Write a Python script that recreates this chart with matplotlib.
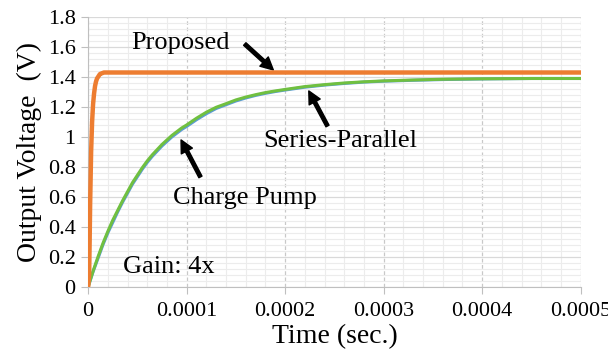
import matplotlib.pyplot as plt
from matplotlib.ticker import MultipleLocator

plt.rcParams['font.family'] = ['Liberation Serif', 'DejaVu Serif']

# Proposed (orange)
t_prop = [0, 0.000001, 0.0000015, 0.000002, 0.000003, 0.000004, 0.000005, 0.000006,
          0.000007, 0.000008, 0.000009, 0.00001, 0.000011, 0.000012, 0.000014,
          0.000016, 0.00002, 0.00005, 0.0001, 0.0002, 0.0003, 0.0004, 0.0005]
v_prop = [0.0, 0.08, 0.3, 0.55, 0.9, 1.1, 1.22, 1.29, 1.34, 1.37, 1.39, 1.40, 1.41,
          1.42, 1.425, 1.43, 1.43, 1.43, 1.43, 1.43, 1.43, 1.43, 1.43]

# Charge Pump (blue)
t_cp = [0, 0.000005, 0.00001, 0.000015, 0.00002, 0.000025, 0.00003, 0.000035,
        0.00004, 0.000045, 0.00005, 0.000055, 0.00006, 0.000065, 0.00007, 0.000075,
        0.00008, 0.000085, 0.00009, 0.000095, 0.0001, 0.00011, 0.00012, 0.00013,
        0.00014, 0.00015, 0.00016, 0.00017, 0.00018, 0.00019, 0.0002, 0.00022,
        0.00024, 0.00026, 0.00028, 0.0003, 0.00033, 0.00036, 0.0004, 0.00045, 0.0005]
v_cp = [0.0, 0.10, 0.19, 0.28, 0.36, 0.43, 0.50, 0.565, 0.625, 0.685, 0.735, 0.785,
        0.83, 0.87, 0.905, 0.94, 0.97, 1.0, 1.025, 1.05, 1.07, 1.115, 1.155, 1.19,
        1.215, 1.24, 1.26, 1.277, 1.291, 1.303, 1.313, 1.332, 1.346, 1.357, 1.366,
        1.372, 1.378, 1.383, 1.387, 1.39, 1.39]

# Series-Parallel (green)
t_sp = t_cp
v_sp = [0.0, 0.105, 0.20, 0.29, 0.37, 0.445, 0.51, 0.575, 0.635, 0.695, 0.745, 0.795,
        0.84, 0.88, 0.915, 0.95, 0.98, 1.01, 1.035, 1.06, 1.08, 1.125, 1.165, 1.198,
        1.222, 1.247, 1.266, 1.282, 1.296, 1.307, 1.317, 1.336, 1.349, 1.36, 1.368,
        1.374, 1.38, 1.385, 1.388, 1.39, 1.39]

fig, ax = plt.subplots(figsize=(6.08, 3.63), dpi=100)
fig.subplots_adjust(left=0.145, right=0.955, top=0.953, bottom=0.21)

ax.plot(t_cp, v_cp, color='#5b9bd5', lw=2.2, zorder=3)
ax.plot(t_sp, v_sp, color='#70c040', lw=2.2, zorder=4)
ax.plot(t_prop, v_prop, color='#ed7d31', lw=3.2, zorder=5)

ax.set_xlim(0, 0.0005)
ax.set_ylim(0, 1.8)
ax.xaxis.set_minor_locator(MultipleLocator(0.00002))
ax.yaxis.set_minor_locator(MultipleLocator(0.04))
ax.set_xticks([0, 0.0001, 0.0002, 0.0003, 0.0004, 0.0005])
ax.set_xticklabels(['0', '0.0001', '0.0002', '0.0003', '0.0004', '0.0005'])
ax.set_yticks([0, 0.2, 0.4, 0.6, 0.8, 1, 1.2, 1.4, 1.6, 1.8])
ax.set_yticklabels(['0', '0.2', '0.4', '0.6', '0.8', '1', '1.2', '1.4', '1.6', '1.8'])

ax.grid(which='minor', color='#ececec', lw=0.8)
ax.grid(which='major', axis='y', color='#d9d9d9', lw=0.9)
ax.grid(which='major', axis='x', color='#c8c8c8', lw=0.9, linestyle=(0, (3, 2)))
ax.set_axisbelow(True)

for s in ['top', 'right']:
    ax.spines[s].set_visible(False)
for s in ['left', 'bottom']:
    ax.spines[s].set_color('#bfbfbf')
ax.tick_params(which='major', colors='#bfbfbf', length=5, labelcolor='black', labelsize=16)
ax.tick_params(which='minor', length=0)
ax.tick_params(axis='x', pad=6)
ax.tick_params(axis='y', pad=4)

ax.set_xlabel('Time (sec.)', fontsize=20, labelpad=2)
ax.set_ylabel('Output Voltage  (V)', fontsize=20, labelpad=4)

arrow = dict(facecolor='black', edgecolor='black', width=2.5, headwidth=9, headlength=9)
ax.text(0.0000935, 1.627, 'Proposed', fontsize=19, ha='center', va='center')
ax.annotate('', xy=(0.000188, 1.447), xytext=(0.000159, 1.62), arrowprops=arrow)
ax.text(0.000256, 0.973, 'Series-Parallel', fontsize=19, ha='center', va='center')
ax.annotate('', xy=(0.000224, 1.307), xytext=(0.000243, 1.073), arrowprops=arrow)
ax.text(0.000159, 0.593, 'Charge Pump', fontsize=19, ha='center', va='center')
ax.annotate('', xy=(0.0000943, 0.98), xytext=(0.000114, 0.733), arrowprops=arrow)
ax.text(0.0000355, 0.133, 'Gain: 4x', fontsize=19, ha='left', va='center')

fig.savefig('out.png')
